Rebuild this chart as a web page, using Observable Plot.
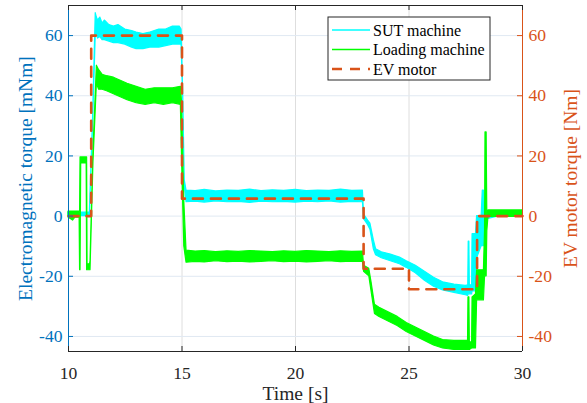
<!DOCTYPE html>
<html><head><meta charset="utf-8">
<script src="https://cdn.jsdelivr.net/npm/d3@7"></script>
<script src="https://cdn.jsdelivr.net/npm/@observablehq/plot@0.6"></script>
<style>html,body{margin:0;padding:0;background:#fff;} #chart{width:587px;height:403px;}</style>
</head><body><div id="chart"></div>
<script>
// ---------- data ----------
const seriesNames = ["SUT machine", "Loading machine", "EV motor"];
const xTicks = [10, 15, 20, 25, 30];
const yTicks = [-40, -20, 0, 20, 40, 60];
const xDomain = [10, 30];
const yDomain = [-45, 70];
const xLabel = "Time [s]";
const yLeftLabel = "Electromagnetic torque [mNm]";
const yRightLabel = "EV motor torque [Nm]";

// SUT machine (cyan): time, lower and upper edge of the noisy band [mNm]
const sutT  = [10.0, 10.5, 10.94, 11.08, 11.2, 11.25, 11.3, 11.4, 11.5, 11.6, 11.8, 12.0, 12.2, 12.5, 12.8, 13.0, 13.3, 13.6, 14.0, 14.3, 14.6, 14.9, 14.98, 15.05, 15.12, 15.2, 15.6, 16.0, 16.5, 17.0, 17.5, 18.0, 18.5, 19.0, 19.5, 20.0, 20.5, 21.0, 21.5, 22.0, 22.5, 22.97, 23.02, 23.2, 23.3, 23.45, 23.55, 23.8, 24.2, 24.6, 24.9, 25.3, 25.7, 26.1, 26.5, 27.0, 27.5, 27.61, 27.63, 27.66, 27.68, 27.78, 27.8, 27.95, 28.0, 28.2, 28.25, 28.3, 28.35, 28.45, 29.0, 30.0];
const sutLo = [0.0, 0.0, 0.0, 30, 60, 61, 59, 59.5, 58.5, 58.5, 58, 57.5, 57.5, 57, 56, 55.5, 55.5, 56, 56, 56.5, 57, 57, 57, 40, 10, 4.6, 4.8, 4.5, 4.9, 4.6, 4.7, 4.4, 4.8, 4.6, 4.7, 4.5, 4.8, 4.6, 4.9, 4.5, 4.7, 4.6, -1, -3, -4.5, -11, -13, -14, -15, -16, -17.2, -19, -21.5, -23.5, -24.7, -25.5, -26.3, -26.5, -26, -26, -26, -26, -25, -25, -14, -10, -10, -10, -5, -1, 0, 0];
const sutHi = [1.2, 1.2, 1.2, 32, 67.5, 66, 65, 66, 64, 65, 63.5, 63, 63.5, 62, 61.5, 61, 60.5, 61, 62, 62, 63, 63, 62, 42, 12, 8.5, 8.3, 8.7, 8.2, 8.5, 8.4, 8.8, 8.3, 8.6, 8.4, 8.7, 8.3, 8.5, 8.4, 8.8, 8.4, 8.5, 0.5, -1.5, -2.5, -8, -11, -12, -12.8, -13.8, -15, -16.5, -18.5, -20.5, -22, -22.8, -23.2, -23, -8.5, -8.5, -23, -23, -6, -6, 0, 0, 8.5, 8.5, 1, 1.5, 1.5, 1.5];

// Loading machine (green): time, lower and upper edge of the noisy band [mNm]
const loadT  = [10.0, 10.2, 10.3, 10.49, 10.51, 10.53, 10.56, 10.8, 10.82, 10.84, 10.86, 10.95, 10.97, 11.1, 11.25, 11.35, 11.5, 11.7, 12.0, 12.3, 12.6, 13.0, 13.4, 13.8, 14.2, 14.6, 14.95, 15.0, 15.1, 15.2, 15.6, 16.0, 16.5, 17.0, 17.5, 18.0, 18.5, 19.0, 19.5, 20.0, 20.5, 21.0, 21.5, 22.0, 22.5, 22.97, 23.02, 23.25, 23.35, 23.5, 23.7, 24.1, 24.5, 24.9, 25.3, 25.7, 26.1, 26.5, 27.0, 27.5, 27.6, 27.62, 27.66, 27.68, 27.78, 27.8, 27.95, 28.0, 28.3, 28.35, 28.37, 28.42, 28.45, 28.5, 29.0, 30.0];
const loadLo = [-0.5, -1.5, -0.5, -0.5, -18, -18, 17.5, 17.5, -18, -18, -18, -18, -18, 18, 44, 42, 42, 41.5, 40.5, 39.5, 38.5, 37.5, 37, 37.5, 37, 37.5, 37, 20, -10, -15.5, -15.2, -15.4, -15, -15.3, -15.1, -15.4, -15.2, -15, -15.3, -15.1, -15.4, -15.2, -15, -15.3, -15.1, -15.2, -18.5, -20, -25, -32.5, -33.5, -35, -36.5, -38.5, -40, -41.5, -43, -44, -44.5, -44.5, -44.5, -44.5, -44.5, -44.5, -44, -44, -44, -28, -28, -20, -20, -20, -5, -0.3, -0.3, -0.3];
const loadHi = [1.5, 1.5, 1.5, 1.5, 1.5, 19.5, 19.5, 19.5, 19.5, -16, -16, -16, -15, 22, 50, 48.5, 47, 46.5, 46, 45, 44, 43, 42, 42.5, 42.5, 42.5, 43, 38, 5, -11.5, -11.8, -11.6, -12, -11.7, -11.9, -11.6, -11.8, -12, -11.7, -11.9, -11.6, -11.8, -12, -11.7, -11.9, -11.8, -16.5, -17.5, -22, -29.5, -30.5, -32, -33.5, -35.5, -37, -38.5, -40, -41.2, -41.5, -41.5, -41.5, -27, -27, -42, -42, -27, -26, -18, -18, -4.7, 27.8, 27.8, 0, 1.9, 1.9, 1.9];

// EV motor torque reference (dashed) [Nm]
const evT = [10, 11.0, 11.0, 15.0, 15.0, 23.0, 23.0, 25.0, 25.0, 28.0, 28.0, 30];
const evV = [0, 0, 60, 60, 5.8, 5.8, -17.5, -17.5, -24.3, -24.3, 0, 0];

// ---------- tables for the library ----------
const sut  = sutT.map((t, i) => ({t, lo: sutLo[i], hi: sutHi[i]}));
const load = loadT.map((t, i) => ({t, lo: loadLo[i], hi: loadHi[i]}));
const ev   = evT.map((t, i) => ({t, v: evV[i]}));

// ---------- style ----------
const W = 587, H = 403, mL = 68, mR = 65, mT = 5, mB = 52;
const fw = W - mL - mR, fh = H - mT - mB;
const blue = "#0072BD", orange = "#D95319", dark = "#262626";
const cyan = "#00FFFF", green = "#00FF00";
const font = "'Liberation Serif','Times New Roman',serif";
const fmt = d => d.toString();

const chart = Plot.plot({
  width: W, height: H,
  marginLeft: mL, marginRight: mR, marginTop: mT, marginBottom: mB,
  style: {fontFamily: font, fontSize: "17.6px", background: "#fff", overflow: "visible"},
  x: {domain: xDomain},
  y: {domain: yDomain},
  marks: [
    Plot.gridX(xTicks.slice(1, -1), {stroke: "#dedede", strokeOpacity: 1}),
    Plot.gridY(yTicks, {stroke: "#e0e9f2", strokeOpacity: 1}),
    Plot.areaY(sut, {x: "t", y1: "lo", y2: "hi", fill: cyan, stroke: cyan, strokeWidth: 1.2}),
    Plot.areaY(load, {x: "t", y1: "lo", y2: "hi", fill: green, stroke: green, strokeWidth: 1.2}),
    Plot.line(ev, {x: "t", y: "v", stroke: orange, strokeWidth: 2.6, strokeDasharray: "10,8"}),
    Plot.ruleY([yDomain[1]], {stroke: dark}),
    Plot.ruleY([yDomain[0]], {stroke: dark}),
    Plot.ruleX([xDomain[0]], {stroke: blue}),
    Plot.ruleX([xDomain[1]], {stroke: orange}),
    Plot.tickX(xTicks, {x: d => d, stroke: dark, insetTop: fh - 5}),
    Plot.tickX(xTicks, {x: d => d, stroke: dark, insetBottom: fh - 5}),
    Plot.tickY(yTicks, {y: d => d, stroke: blue, insetRight: fw - 5}),
    Plot.tickY(yTicks, {y: d => d, stroke: orange, insetLeft: fw - 5}),
    Plot.axisX(xTicks, {tickSize: 0, tickPadding: 15, color: dark, label: null, tickFormat: fmt, fontFamily: font}),
    Plot.axisY(yTicks, {anchor: "left", tickSize: 0, tickPadding: 6, color: blue, label: null, tickFormat: fmt, fontFamily: font}),
    Plot.axisY(yTicks, {anchor: "right", tickSize: 0, tickPadding: 6, color: orange, label: null, tickFormat: fmt, fontFamily: font}),
    Plot.text([xLabel], {text: d => d, frameAnchor: "bottom", dy: 42, textAnchor: "middle", lineAnchor: "middle", fill: dark, fontSize: 19.5, fontFamily: font}),
    Plot.text([yLeftLabel], {text: d => d, frameAnchor: "left", dx: -43, rotate: -90, textAnchor: "middle", lineAnchor: "middle", fill: blue, fontSize: 19.5, fontFamily: font}),
    Plot.text([yRightLabel], {text: d => d, frameAnchor: "right", dx: 48, rotate: -90, textAnchor: "middle", lineAnchor: "middle", fill: orange, fontSize: 19.5, fontFamily: font})
  ]
});
document.getElementById("chart").appendChild(chart);

// ---------- legend (inside the axes, top right) ----------
const svg = d3.select(chart);
const lg = svg.append("g").attr("transform", "translate(328,17)");
lg.append("rect").attr("width", 162).attr("height", 63)
  .attr("fill", "#fff").attr("stroke", dark).attr("stroke-width", 1);
const legendStyles = [
  {stroke: cyan, width: 1.5, dash: null},
  {stroke: green, width: 1.5, dash: null},
  {stroke: orange, width: 2.6, dash: "10,8"}
];
seriesNames.forEach((name, i) => {
  const y = 13 + i * 19.5;
  lg.append("line").attr("x1", 4).attr("x2", 42).attr("y1", y).attr("y2", y)
    .attr("stroke", legendStyles[i].stroke).attr("stroke-width", legendStyles[i].width)
    .attr("stroke-dasharray", legendStyles[i].dash);
  lg.append("text").attr("x", 45).attr("y", y).attr("dy", "0.35em")
    .attr("text-anchor", "start")
    .attr("font-family", font).attr("font-size", 16).attr("fill", "#000").text(name);
});
</script>
</body></html>
